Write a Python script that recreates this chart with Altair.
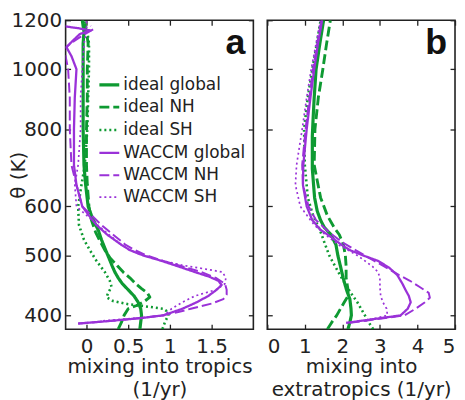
import altair as alt
import pandas as pd

FONT = "DejaVu Sans"
LFONT = "Liberation Sans"
INK = "#222222"

SERIES = ["ideal global", "ideal NH", "ideal SH", "WACCM global", "WACCM NH", "WACCM SH"]
COLORS = ["#0e9a32", "#0e9a32", "#0e9a32", "#9a32d8", "#9a32d8", "#9a32d8"]
DASHES = [[1, 0], [10, 4], [2, 3], [1, 0], [10, 4], [2, 3]]
WIDTHS = [3.2, 1.7, 1.7, 3.2, 1.7, 1.7]

Y_TICKS = [400, 500, 600, 800, 1000, 1200]
A_TICKS = [0, 0.5, 1, 1.5]
B_TICKS = [0, 1, 2, 3, 4, 5]

# ---------- panel a: mixing into tropics ----------
a_ig_theta = [380, 390, 400, 410, 420, 430, 440, 450, 460, 470, 480, 495, 510, 530, 550, 575, 600, 650, 700, 800, 900, 1000, 1100, 1150, 1200]
a_ig_x = [0.64, 0.65, 0.66, 0.65, 0.62, 0.57, 0.50, 0.43, 0.38, 0.34, 0.31, 0.27, 0.23, 0.18, 0.14, 0.07, 0.02, -0.01, -0.03, -0.04, -0.04, -0.04, -0.04, -0.03, -0.05]

a_in_theta = [380, 390, 400, 410, 415, 420, 428, 435, 442, 450, 460, 470, 481, 496, 510, 525, 545, 570, 600, 650, 700, 800, 900, 1000, 1100, 1150, 1200]
a_in_x = [0.38, 0.42, 0.45, 0.50, 0.60, 0.68, 0.76, 0.73, 0.66, 0.59, 0.52, 0.44, 0.37, 0.28, 0.22, 0.17, 0.11, 0.06, 0.03, 0.01, 0.0, 0.0, 0.01, 0.01, 0.02, 0.0, -0.03]

a_is_theta = [380, 390, 400, 405, 410, 413, 417, 422, 428, 435, 445, 455, 470, 490, 510, 530, 560, 600, 650, 700, 800, 900, 1000, 1100, 1150, 1200]
a_is_x = [0.91, 0.94, 0.98, 0.98, 0.92, 0.75, 0.50, 0.32, 0.24, 0.26, 0.30, 0.28, 0.22, 0.12, 0.04, -0.03, -0.09, -0.10, -0.06, -0.02, 0.01, 0.02, 0.03, 0.03, 0.01, -0.03]

a_wg_theta = [388, 392, 396, 400, 410, 420, 430, 440, 448, 455, 462, 470, 480, 490, 500, 510, 520, 540, 560, 580, 600, 650, 700, 800, 900, 1000, 1050, 1085, 1110, 1140, 1155, 1165, 1175]
a_wg_x = [-0.10, 0.30, 0.65, 0.92, 1.15, 1.32, 1.46, 1.56, 1.62, 1.58, 1.47, 1.30, 1.10, 0.90, 0.68, 0.52, 0.42, 0.25, 0.12, 0.03, -0.05, -0.12, -0.15, -0.15, -0.14, -0.12, -0.18, -0.24, -0.17, -0.08, 0.05, -0.10, -0.30]

a_wn_theta = [388, 392, 396, 400, 405, 410, 418, 425, 432, 440, 450, 460, 470, 480, 490, 500, 510, 520, 540, 560, 600, 650, 700, 800, 900, 1000, 1050, 1080, 1110, 1140, 1160, 1175]
a_wn_x = [-0.10, 0.30, 0.65, 0.90, 1.10, 1.25, 1.50, 1.64, 1.68, 1.68, 1.66, 1.55, 1.38, 1.15, 0.92, 0.72, 0.58, 0.47, 0.32, 0.18, -0.05, -0.12, -0.18, -0.20, -0.20, -0.22, -0.25, -0.27, -0.15, -0.02, 0.08, 0.05]

a_ws_theta = [392, 396, 400, 410, 420, 430, 440, 450, 460, 470, 476, 482, 490, 500, 510, 520, 550, 600, 650, 700, 800, 900, 1000, 1100, 1150, 1200]
a_ws_x = [0.20, 0.60, 0.93, 1.02, 1.15, 1.30, 1.55, 1.66, 1.67, 1.63, 1.40, 1.15, 0.92, 0.68, 0.52, 0.42, 0.20, -0.12, -0.14, -0.10, -0.07, -0.07, -0.05, -0.03, 0.0, 0.0]

# ---------- panel b: mixing into extratropics ----------
b_ig_theta = [380, 390, 400, 410, 425, 440, 460, 480, 500, 520, 540, 555, 570, 590, 620, 690, 780, 830, 900, 1000, 1100, 1200]
b_ig_x = [2.15, 2.20, 2.24, 2.23, 2.20, 2.11, 2.02, 1.95, 1.88, 1.83, 1.70, 1.52, 1.42, 1.33, 1.26, 1.20, 1.20, 1.22, 1.25, 1.30, 1.40, 1.50]

b_in_theta = [380, 390, 400, 410, 420, 430, 440, 460, 480, 500, 520, 540, 555, 580, 620, 700, 800, 900, 1000, 1100, 1200]
b_in_x = [1.60, 1.72, 1.85, 1.95, 2.05, 2.15, 2.15, 2.10, 2.10, 2.08, 2.03, 1.92, 1.78, 1.60, 1.42, 1.25, 1.27, 1.36, 1.48, 1.58, 1.68]

b_is_theta = [380, 390, 400, 410, 420, 430, 445, 460, 475, 500, 525, 550, 580, 620, 700, 800, 900, 1000, 1100, 1200]
b_is_x = [2.82, 2.70, 2.60, 2.50, 2.40, 2.28, 2.12, 1.98, 1.85, 1.65, 1.52, 1.40, 1.22, 1.08, 1.00, 0.98, 1.08, 1.20, 1.32, 1.42]

b_wg_theta = [389, 400, 410, 420, 430, 440, 450, 465, 478, 490, 500, 510, 520, 537, 550, 570, 600, 650, 700, 800, 900, 1000, 1100, 1200]
b_wg_x = [2.10, 3.55, 3.74, 3.82, 3.77, 3.68, 3.60, 3.46, 3.24, 2.95, 2.55, 2.20, 1.98, 1.67, 1.42, 1.20, 1.05, 0.95, 0.96, 1.05, 1.15, 1.25, 1.35, 1.46]

b_wn_theta = [389, 400, 410, 420, 427, 435, 445, 455, 465, 475, 490, 500, 510, 525, 545, 570, 600, 650, 700, 800, 900, 1000, 1100, 1200]
b_wn_x = [2.20, 3.65, 3.95, 4.20, 4.33, 4.30, 4.05, 3.80, 3.50, 3.25, 2.85, 2.60, 2.35, 2.00, 1.65, 1.30, 1.10, 0.95, 0.93, 1.02, 1.12, 1.22, 1.33, 1.44]

b_ws_theta = [392, 400, 410, 420, 430, 445, 460, 470, 480, 490, 500, 510, 520, 540, 560, 600, 650, 700, 800, 900, 1000, 1100, 1200]
b_ws_x = [2.60, 3.20, 3.18, 3.08, 3.02, 3.00, 3.00, 2.95, 2.80, 2.60, 2.40, 2.15, 1.90, 1.55, 1.25, 0.88, 0.75, 0.78, 0.93, 1.05, 1.17, 1.30, 1.42]


def build(thetas, xs):
    rows = []
    for s, th, xv in zip(SERIES, thetas, xs):
        for i, (t, x) in enumerate(zip(th, xv)):
            rows.append({"series": s, "theta": t, "x": x, "i": i})
    return pd.DataFrame(rows)


df_a = build([a_ig_theta, a_in_theta, a_is_theta, a_wg_theta, a_wn_theta, a_ws_theta],
             [a_ig_x, a_in_x, a_is_x, a_wg_x, a_wn_x, a_ws_x])
df_b = build([b_ig_theta, b_in_theta, b_is_theta, b_wg_theta, b_wn_theta, b_ws_theta],
             [b_ig_x, b_in_x, b_is_x, b_wg_x, b_wn_x, b_ws_x])

W, H = 189, 311
TK = 5


def panel(df, xdomain, xticks, xtitle, letter, first):
    xs = alt.Scale(domain=xdomain, nice=False, zero=False)
    ys = alt.Scale(type="log", domain=[380, 1200], nice=False)
    if first:
        leg = alt.Legend(orient="none", legendX=32, legendY=53, title=None,
                         symbolType="stroke", symbolSize=400, labelFont=FONT,
                         labelFontSize=17, labelColor=INK, labelOffset=2,
                         rowPadding=3, padding=0, labelLimit=300)
    else:
        leg = None
    xaxis = dict(orient="bottom", values=xticks, format="~g", title=xtitle,
                 offset=-TK, tickSize=TK, domain=False, grid=False,
                 labelPadding=7, titlePadding=1, titleLineHeight=23)
    if not first:
        xaxis.update(labelFlush=True)
    base = alt.Chart(df)
    lines = base.mark_line(clip=True, strokeJoin="round").encode(
        x=alt.X("x:Q", scale=xs, axis=alt.Axis(**xaxis)),
        y=alt.Y("theta:Q", scale=ys, axis=alt.Axis(
            orient="left", values=Y_TICKS, format="d",
            title="θ (K)" if first else None, labels=first,
            offset=-TK, tickSize=TK, domain=False, grid=False,
            labelPadding=4, titleX=-42, titleAlign="center",
            titleBaseline="bottom", titleAngle=-90)),
        color=alt.Color("series:N", sort=SERIES,
                        scale=alt.Scale(domain=SERIES, range=COLORS), legend=leg),
        strokeDash=alt.StrokeDash("series:N", sort=SERIES,
                                  scale=alt.Scale(domain=SERIES, range=DASHES), legend=leg),
        strokeWidth=alt.StrokeWidth("series:N", sort=SERIES,
                                    scale=alt.Scale(domain=SERIES, range=WIDTHS), legend=leg),
        order=alt.Order("i:Q"),
    )
    ghost = base.mark_point(opacity=0, clip=True).encode(
        x=alt.X("x:Q", scale=xs, axis=alt.Axis(
            orient="top", values=xticks, labels=False, title=None,
            offset=-TK, tickSize=TK, domain=False, grid=False)),
        y=alt.Y("theta:Q", scale=ys, axis=alt.Axis(
            orient="right", values=Y_TICKS, labels=False, title=None,
            offset=-TK, tickSize=TK, domain=False, grid=False)),
    )
    lab = alt.Chart(pd.DataFrame({"t": [letter]})).mark_text(
        align="right", baseline="alphabetic", font=LFONT, fontSize=36,
        fontWeight="bold", color="#111111").encode(
        text="t:N", x=alt.value(W - 8), y=alt.value(34))
    return alt.layer(lines, ghost, lab).resolve_axis(
        x="independent", y="independent").properties(width=W, height=H)


pa = panel(df_a, [-0.25, 2.0], A_TICKS, ["mixing into tropics", "(1/yr)"], "a", True)
pb = panel(df_b, [0, 5], B_TICKS, ["mixing into", "extratropics (1/yr)"], "b", False)

chart = alt.hconcat(pa, pb, spacing=10).resolve_scale(
    color="independent", strokeDash="independent", strokeWidth="independent"
).properties(
    padding={"left": 0, "top": 0, "right": 0, "bottom": 0}
).configure_view(
    stroke=INK, strokeWidth=1.6
).configure_axis(
    labelFont=FONT, titleFont=FONT, labelFontSize=20, titleFontSize=20,
    labelColor=INK, titleColor=INK, tickColor=INK, tickWidth=1.3,
    titleFontWeight="normal"
)

chart.save("out.html", embed_options={"renderer": "svg", "actions": False})
